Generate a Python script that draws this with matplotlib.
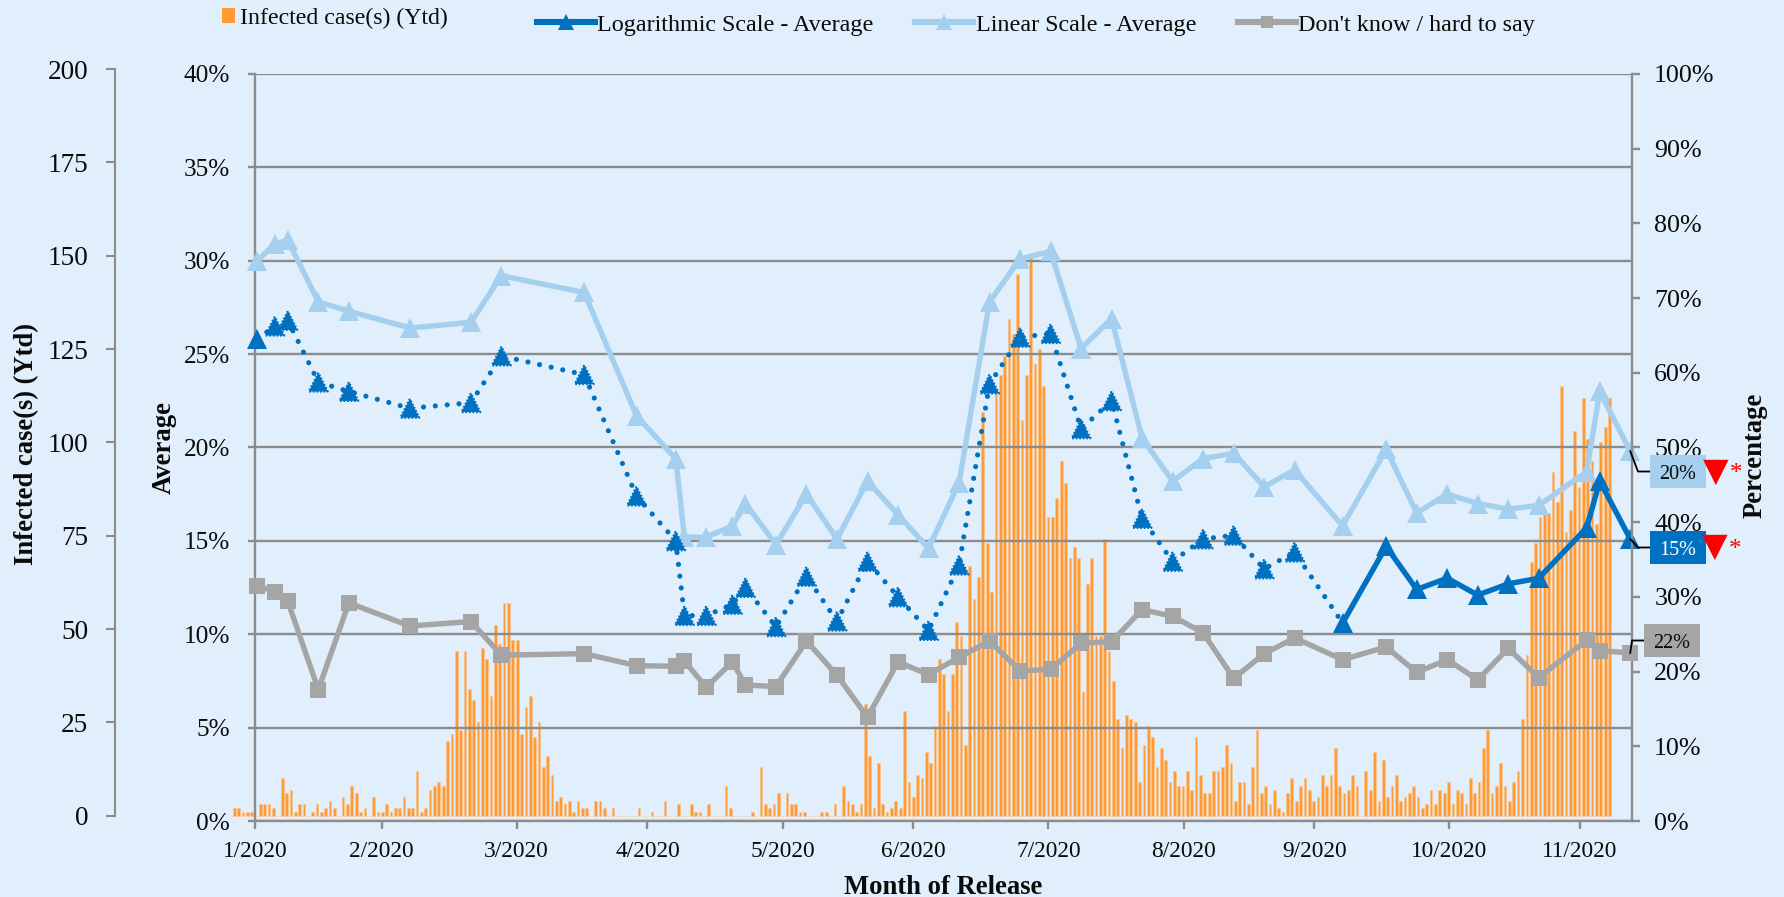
import matplotlib
matplotlib.use("Agg")
import matplotlib.pyplot as plt
from matplotlib.lines import Line2D
from matplotlib.patches import Rectangle, Patch

W, H = 1784, 897
BG = "#E0EFFB"
ORANGE = "#FF9A35"
DARK = "#0070C0"
LIGHT = "#A5CFEE"
GRAY = "#A5A5A5"
AXC = "#8C8C8C"
INK = "#0A0A0A"
FONT = "Liberation Serif"

month_labels = ["1/2020", "2/2020", "3/2020", "4/2020", "5/2020", "6/2020",
                "7/2020", "8/2020", "9/2020", "10/2020", "11/2020"]
month_ticks = [-0.5, 28.5, 59.5, 89.5, 120.5, 150.5, 181.5, 212.5, 242.5, 273.5, 303.5]

# release positions of the survey waves (day index)
wave_days = [0, 4, 7, 14, 21, 35, 49, 56, 75, 87, 96, 98, 103, 109, 112, 119, 126, 133,
             140, 147, 154, 161, 168, 175, 182, 189, 196, 203, 210, 217, 224, 231, 238,
             249, 259, 266, 273, 280, 287, 294, 305, 308, 315]

linear_avg = [30.0, 30.9, 31.1, 27.8, 27.3, 26.4, 26.7, 29.2, 28.3, 21.7, 19.4, 15.2, 15.2,
              15.8, 17.0, 14.8, 17.5, 15.1, 18.2, 16.4, 14.6, 18.1, 27.8, 30.1, 30.5, 25.3,
              26.9, 20.5, 18.2, 19.4, 19.7, 17.9, 18.8, 15.8, 19.9, 16.5, 17.5, 17.0, 16.7,
              16.9, 18.7, 23.0, 19.8]
log_avg = [25.8, 26.5, 26.8, 23.5, 23.0, 22.1, 22.4, 24.9, 23.9, 17.4, 15.0, 11.0, 11.0,
           11.6, 12.5, 10.4, 13.1, 10.7, 13.9, 12.0, 10.2, 13.7, 23.4, 25.9, 26.1, 21.0,
           22.5, 16.2, 13.9, 15.1, 15.3, 13.5, 14.4, 10.6, 14.7, 12.4, 13.0, 12.1, 12.7,
           13.0, 15.7, 18.2, 15.1]
dont_know = [31.5, 30.7, 29.4, 17.6, 29.2, 26.1, 26.7, 22.2, 22.4, 20.8, 20.7, 21.4, 17.9,
             21.3, 18.2, 18.0, 24.1, 19.5, 13.9, 21.3, 19.6, 21.9, 24.1, 20.1, 20.3, 23.8,
             24.0, 28.3, 27.4, 25.2, 19.1, 22.4, 24.5, 21.6, 23.3, 19.9, 21.6, 18.9, 23.1,
             19.2, 24.2, 22.8, 22.5]

infected = [
    2, 2, 1, 1, 1, 0, 3, 3, 3, 2, 0, 10, 6, 7, 1, 3, 3, 0, 1, 3, 1, 2, 4, 2, 0, 5, 3, 8, 6, 1,
    2, 0, 5, 1, 1, 3, 1, 2, 2, 5, 2, 2, 12, 1, 2, 7, 8, 9, 8, 20, 22, 44, 23, 44, 34, 31, 25, 45, 42, 32,
    51, 46, 57, 57, 47, 47, 22, 29, 32, 21, 25, 13, 16, 11, 4, 5, 3, 4, 1, 4, 2, 2, 0, 4, 4, 2, 0, 2, 0, 0,
    0, 0, 0, 2, 0, 0, 1, 0, 0, 4, 0, 0, 3, 0, 0, 3, 1, 1, 0, 3, 0, 0, 0, 8, 2, 0, 0, 0, 0, 1,
    0, 13, 3, 2, 3, 6, 0, 6, 3, 3, 1, 1, 0, 0, 0, 1, 1, 0, 3, 0, 8, 4, 3, 1, 3, 30, 16, 2, 14, 3,
    1, 2, 4, 2, 28, 9, 5, 11, 10, 17, 14, 24, 42, 38, 28, 38, 52, 48, 19, 67, 58, 64, 108, 73, 60, 113, 118, 123, 133, 129,
    145, 106, 118, 150, 121, 125, 115, 80, 80, 85, 95, 89, 69, 72, 69, 33, 62, 69, 48, 48, 74, 44, 36, 26, 18, 27, 26, 25, 9, 19,
    24, 21, 13, 18, 15, 9, 12, 8, 8, 12, 7, 21, 11, 6, 6, 12, 12, 13, 19, 14, 4, 9, 9, 3, 13, 23, 6, 8, 3, 7,
    2, 1, 6, 10, 4, 8, 10, 7, 4, 5, 11, 8, 11, 18, 8, 6, 7, 11, 8, 0, 12, 7, 17, 4, 15, 5, 8, 11, 4, 5,
    6, 8, 5, 2, 3, 7, 3, 7, 6, 9, 3, 7, 6, 3, 10, 6, 9, 18, 23, 6, 8, 14, 8, 4, 9, 12, 26, 43, 68, 73,
    80, 81, 81, 92, 84, 115, 76, 82, 103, 88, 112, 101, 95, 78, 100, 104, 112,
]
days_index = list(range(len(infected)))

left_ticks = [0, 25, 50, 75, 100, 125, 150, 175, 200]
avg_ticks = [0, 5, 10, 15, 20, 25, 30, 35, 40]
pct_ticks = [0, 10, 20, 30, 40, 50, 60, 70, 80, 90, 100]

plt.rcParams["font.family"] = [FONT, "DejaVu Sans"]
fig = plt.figure(figsize=(W / 100, H / 100), dpi=100, facecolor=BG)


def box(l, t, r, b):
    return [l / W, 1 - b / H, (r - l) / W, (b - t) / H]


def fx(px):
    return px / W


def fy(py):
    return 1 - py / H


# cases axis (bars reach left of the percentage axis)
ax_bar = fig.add_axes(box(114.7, 69, 1632, 815.7), zorder=1)
ax_bar.set_facecolor("none")
ax_bar.bar(days_index, infected, width=0.62, color=ORANGE, edgecolor="#FFC48A",
           linewidth=0.4, clip_on=False)
ax_bar.set_xlim(-27.48, 321.16)
ax_bar.set_ylim(0, 200)
ax_bar.set_yticks(left_ticks)
ax_bar.set_xticks([])
for s in ("top", "right", "bottom"):
    ax_bar.spines[s].set_visible(False)
ax_bar.spines["left"].set_color(AXC)
ax_bar.spines["left"].set_linewidth(1.5)
ax_bar.tick_params(axis="y", direction="out", length=6.5, width=1.5, color=AXC,
                   labelsize=19.6, pad=12.5, labelcolor=INK)

# average axis
ax = fig.add_axes(box(255, 74, 1632, 821), zorder=2)
ax.set_facecolor("none")
ax.set_xlim(-0.53, 315.4)
ax.set_ylim(0, 40)
ax.set_yticks(avg_ticks)
ax.set_yticklabels([f"{v}%" for v in avg_ticks])
ax.set_xticks(month_ticks)
ax.set_xticklabels(month_labels)
ax.grid(axis="y", color=AXC, linewidth=1.7)
ax.set_axisbelow(True)
for s in ("top", "right"):
    ax.spines[s].set_visible(False)
for s in ("left", "bottom"):
    ax.spines[s].set_color(AXC)
    ax.spines[s].set_linewidth(1.7)
ax.tick_params(axis="y", direction="out", length=5, width=1.7, color=AXC,
               labelsize=18.2, pad=13, labelcolor=INK)
ax.tick_params(axis="x", direction="out", length=5.5, width=1.7, color=AXC,
               labelsize=16.8, pad=9, labelcolor=INK)

# solid/dotted split of the logarithmic series
split = wave_days.index(249)
tri = 14.4
ax.plot(wave_days, linear_avg, color=LIGHT, lw=3.9, marker="^", ms=tri, mew=0,
        clip_on=False, zorder=4, solid_joinstyle="miter")
ax.plot(wave_days[:split + 1], log_avg[:split + 1], color=DARK, lw=3.7,
        linestyle=(0, (0.01, 2.3)), dash_capstyle="round", clip_on=False, zorder=5)
ax.scatter(wave_days[1:split], log_avg[1:split], marker="^", s=13.5 ** 2, facecolors=DARK,
           edgecolors=DARK, linewidths=1.6, linestyles=(0, (0.8, 0.8)), clip_on=False, zorder=5)
ax.plot(wave_days[0], log_avg[0], ls="none", color=DARK, marker="^", ms=tri, mew=0,
        clip_on=False, zorder=5)
ax.plot(wave_days[split:], log_avg[split:], color=DARK, lw=3.9, marker="^", ms=tri,
        mew=0, clip_on=False, zorder=5, solid_joinstyle="miter")

# percentage axis
ax_r = ax.twinx()
ax_r.set_zorder(3)
ax_r.set_facecolor("none")
ax_r.set_ylim(0, 100)
ax_r.set_yticks(pct_ticks)
ax_r.set_yticklabels([f"{v}%" for v in pct_ticks])
for s in ("top", "left", "bottom"):
    ax_r.spines[s].set_visible(False)
ax_r.spines["right"].set_color(AXC)
ax_r.spines["right"].set_linewidth(1.7)
ax_r.tick_params(axis="y", direction="out", length=6, width=1.7, color=AXC,
                 labelsize=18.7, pad=10, labelcolor=INK)
ax_r.plot(wave_days, dont_know, color=GRAY, lw=3.9, marker="s", ms=11, mew=0,
          clip_on=False, zorder=4, solid_joinstyle="miter")

# axis titles
bold = dict(fontweight="bold", fontsize=19.2, color=INK)
fig.text(fx(27), fy(444), "Infected case(s) (Ytd)", rotation=90, ha="center", va="center", **bold)
fig.text(fx(164), fy(447), "Average", rotation=90, ha="center", va="center", **bold)
fig.text(fx(1755), fy(455), "Percentage", rotation=90, ha="center", va="center", **bold)
fig.text(fx(943), fy(887), "Month of Release", ha="center", va="center", **bold)


# callouts: anchored on the last value of each series
def callout(axis, value, left, top, txt, fill, tc, arrow=None, lift=0):
    right, bottom = left + 56, top + 33
    mid = (top + bottom) / 2
    fig.add_artist(Rectangle((fx(left), fy(bottom)), 56 / W, 33 / H, transform=fig.transFigure,
                             facecolor=fill, edgecolor="none", zorder=10))
    fig.text(fx((left + right) / 2), fy(mid + 3), txt, ha="center", va="center", fontsize=14.5,
             color=tc, zorder=11)
    x0, y0 = axis.transData.transform((wave_days[-1], value))
    knee = left - 12
    fig.add_artist(Line2D([x0 / W, fx(knee), fx(left)], [y0 / H, fy(mid), fy(mid)],
                          transform=fig.transFigure, color="black", lw=1.3, zorder=9))
    if arrow:
        fig.text(fx(arrow), fy(mid + 1.5 - lift), "\u25BC", ha="center", va="center", fontsize=24,
                 color="#FF0000", family="DejaVu Sans", zorder=11)
        fig.text(fx(arrow + 20), fy(mid + 2), "*", ha="center", va="center", fontsize=18,
                 color="#FF0000", zorder=11)


callout(ax, linear_avg[-1], 1650, 455, "20%", LIGHT, INK, arrow=1716, lift=2)
callout(ax, log_avg[-1], 1650, 531, "15%", DARK, "white", arrow=1715, lift=3)
callout(ax_r, dont_know[-1], 1644, 624, "22%", GRAY, INK)

# legends
fig.legend(handles=[Patch(facecolor=ORANGE, edgecolor="none", label="Infected case(s) (Ytd)")],
           loc="center left", bbox_to_anchor=(fx(222), fy(18)), frameon=False, borderpad=0,
           borderaxespad=0, fontsize=17.2, handlelength=0.54, handleheight=0.58, handletextpad=0.2,
           labelcolor=INK)
handles = [
    Line2D([], [], color=DARK, lw=4.4, marker="^", ms=12, mew=0, label="Logarithmic Scale - Average"),
    Line2D([], [], color=LIGHT, lw=4.4, marker="^", ms=12, mew=0, label="Linear Scale - Average"),
    Line2D([], [], color=GRAY, lw=4.4, marker="s", ms=9, mew=0, label="Don't know / hard to say"),
]
fig.legend(handles=handles, loc="center left", bbox_to_anchor=(fx(537), fy(25)), frameon=False,
           ncol=3, borderpad=0, borderaxespad=0, fontsize=17.4, handlelength=2.4,
           handletextpad=0.1, columnspacing=1.72, labelcolor=INK)

fig.savefig("out.png", dpi=100, facecolor=BG)
